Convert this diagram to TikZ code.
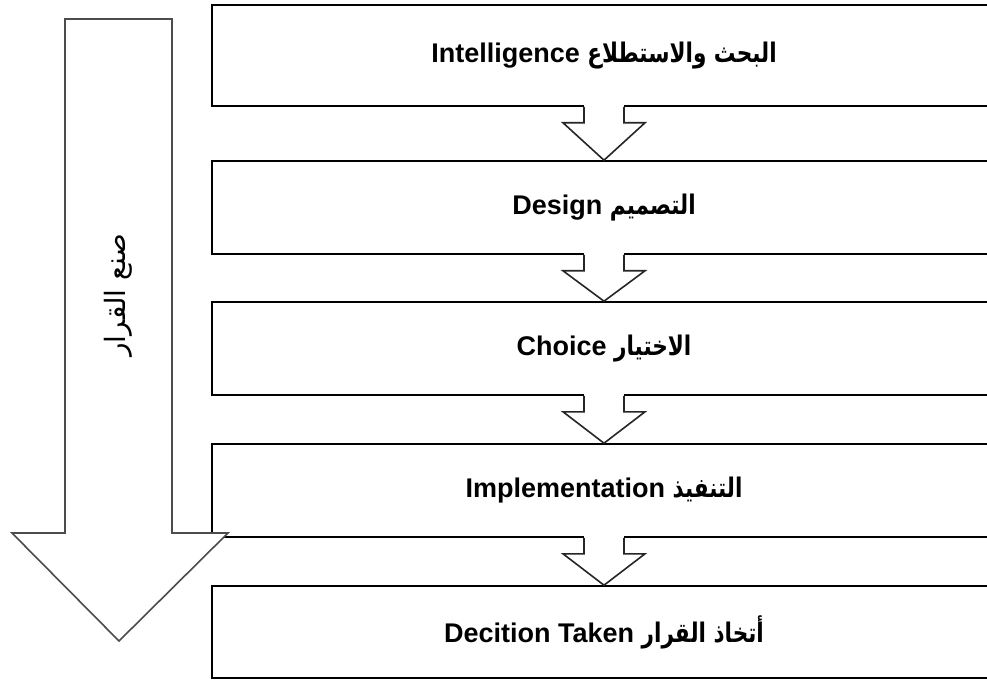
\documentclass[tikz,border=0pt]{standalone}
\usepackage{fontspec}
\setmainfont{Liberation Sans}
\newfontfamily\arabicfont[Script=Arabic,FakeStretch=0.8]{DejaVu Sans}
\newfontfamily\arabiclabel[Script=Arabic]{DejaVu Sans}
\TeXXeTstate=1
\usetikzlibrary{calc}
\begin{document}
\begin{tikzpicture}[x=1pt,y=-1pt,
  box/.style={draw=black,line width=1.6pt,fill=white,minimum width=784pt,inner sep=0pt,
    font=\fontsize{27}{32}\selectfont\bfseries},
  bigarrow/.style={draw=black!70,line width=1.6pt,fill=white,line join=miter},
  smallarrow/.style={draw=black!85,line width=1.6pt,line join=miter}]
\clip (0,0) rectangle (987,684);
\fill[white] (0,0) rectangle (987,684);
% boxes
\node[box,minimum height=101pt] (b1) at (604,55.5) {Intelligence {\arabicfont\beginR البحث والاستطلاع\endR}};
\node[box,minimum height=93pt] (b2) at (604,207.5) {Design {\arabicfont\beginR التصميم\endR}};
\node[box,minimum height=93pt] (b3) at (604,348.5) {Choice {\arabicfont\beginR الاختيار\endR}};
\node[box,minimum height=93pt] (b4) at (604,490.5) {Implementation {\arabicfont\beginR التنفيذ\endR}};
\node[box,minimum height=92pt] (b5) at (604,632) {Decition Taken {\arabicfont\beginR أتخاذ القرار\endR}};
% small hollow arrows between boxes
\foreach \a/\b in {b1/b2,b2/b3,b3/b4,b4/b5}{
  \fill[white] ($(\a.south)+(-20,-2)$) rectangle ($(\a.south)+(20,16)$);
  \fill[white] ($(\a.south)+(-41,16)$) -- (\b.north) -- ($(\a.south)+(41,16)$) -- cycle;
  \draw[smallarrow] ($(\a.south)+(-20,0)$) -- ($(\a.south)+(-20,16)$) -- ($(\a.south)+(-41,16)$)
     -- (\b.north) -- ($(\a.south)+(41,16)$) -- ($(\a.south)+(20,16)$) -- ($(\a.south)+(20,0)$);
}
% big arrow on the left
\draw[bigarrow] (65,19) -- (172,19) -- (172,533) -- (228,533) -- (119,641) -- (12,533) -- (65,533) -- cycle;
\node[rotate=90,font=\fontsize{28}{32}\selectfont] (lab) at (118,295) {\arabiclabel\beginR صنع القرار\endR};
\end{tikzpicture}
\end{document}
